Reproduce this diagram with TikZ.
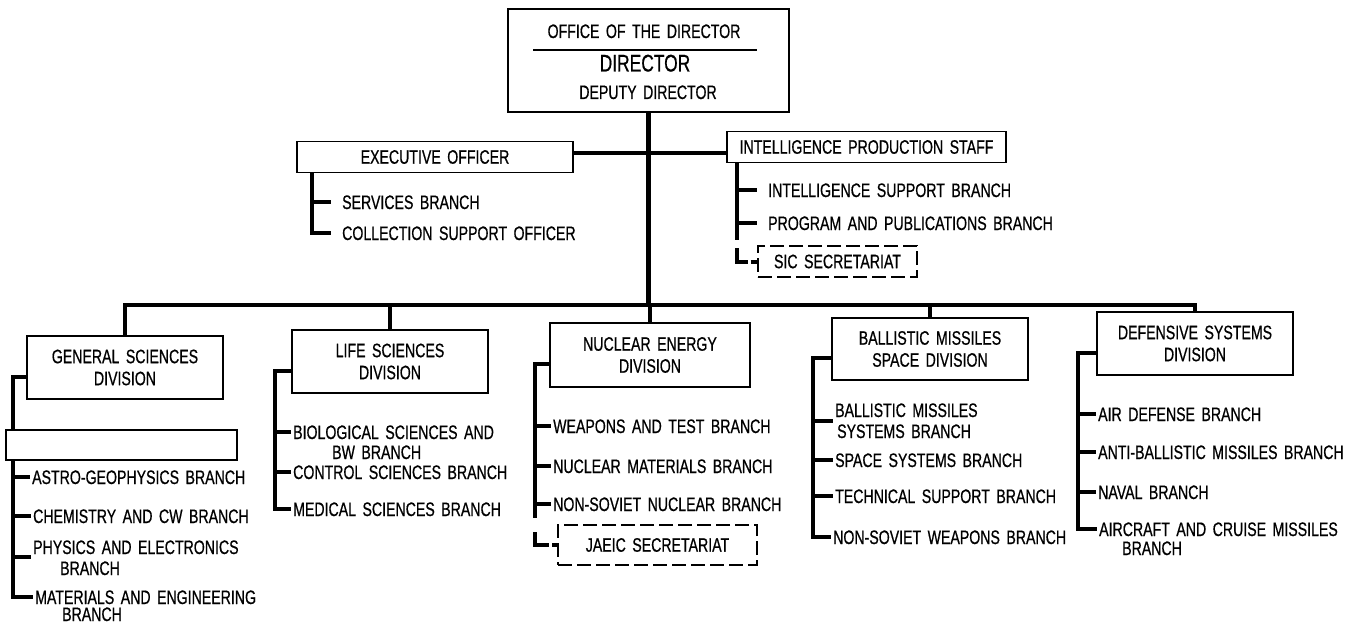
\documentclass[tikz,border=0pt]{standalone}
\usepackage{fontspec}
\setmainfont{Liberation Sans}[FakeStretch=0.725,WordSpace=1.65,FakeBold=0.6]
\begin{document}
\begin{tikzpicture}[x=1pt,y=-1pt,
  txt/.style={font=\fontsize{19.5}{22}\selectfont},
  lbl/.style={txt, anchor=west, inner sep=0pt, text height=14pt, text depth=0pt},
  divbox/.style={txt, draw, line width=1.5pt, minimum width=196pt, minimum height=63pt, align=center, inner sep=2pt},
  staffbox/.style={txt, draw, line width=1.5pt, minimum height=31pt, inner sep=0pt},
  dashbox/.style={txt, draw, line width=1.3pt, dash pattern=on 14pt off 5pt, inner sep=0pt},
  blankbox/.style={draw, line width=2.5pt, fill=white, inner sep=0pt},
  spine/.style={line width=4pt},
  tick/.style={line width=3.5pt},
  bus/.style={line width=4.5pt},
  trunk/.style={line width=5pt}]

\fill[white] (0,0) rectangle (1366,623);
\useasboundingbox (0,0) rectangle (1366,623);

% ---------- Office of the Director ----------
\node[draw, line width=1.8pt, minimum width=281pt, minimum height=103pt, inner sep=0pt] (dirbox) at (648.5,60.5) {};
\node[lbl, anchor=center] (office) at (644,31) {OFFICE OF THE DIRECTOR};
\draw[line width=1.2pt] (533,50) -- (757,50);
\node[lbl, anchor=center, font=\fontsize{24}{26}\selectfont, text height=17pt] (director) at (645,63) {DIRECTOR};
\node[lbl, anchor=center] (deputy) at (648,92) {DEPUTY DIRECTOR};

\coordinate (hub) at (649,153);
\coordinate (busc) at (649,305);
\draw[trunk] (dirbox.south) -- (dirbox.south |- busc);

% ---------- Staff offices ----------
\node[staffbox, minimum width=276pt] (exec) at (435,157) {EXECUTIVE OFFICER};
\node[staffbox, minimum width=279pt] (ips) at (866.5,147) {INTELLIGENCE PRODUCTION STAFF};
\draw[line width=3.5pt] (exec.east |- hub) -- (ips.west |- hub);

% Executive officer branches
\node[lbl] (serv) at (342,202) {SERVICES BRANCH};
\node[lbl] (coll) at (342,233) {COLLECTION SUPPORT OFFICER};
\coordinate (xsp) at (312,0);
\draw[spine] (exec.south -| xsp) -- (xsp |- coll.west) -- ([xshift=-11pt]coll.west);
\draw[tick] (xsp |- serv.west) -- ([xshift=-11pt]serv.west);

% Intelligence production staff branches
\node[lbl] (isb) at (768,190) {INTELLIGENCE SUPPORT BRANCH};
\node[lbl] (ppb) at (768,223) {PROGRAM AND PUBLICATIONS BRANCH};
\node[dashbox, minimum width=159pt, minimum height=31pt] (sic) at (837.5,261.5) {SIC SECRETARIAT};
\coordinate (iend) at (737,240);
\coordinate (itop) at (737,248);
\draw[spine] (ips.south -| iend) -- (iend);
\draw[tick] (iend |- isb.west) -- ([xshift=-11pt]isb.west);
\draw[tick] (iend |- ppb.west) -- ([xshift=-11pt]ppb.west);
\draw[spine, dash pattern=on 24pt off 3pt] (itop) |- (sic.west);

% ---------- Divisions ----------
\node[divbox] (gsd) at (125,367.5) {GENERAL SCIENCES\\DIVISION};
\node[divbox] (lsd) at (390,361.5) {LIFE SCIENCES\\DIVISION};
\node[divbox, minimum width=200pt, minimum height=64pt] (ned) at (650,355) {NUCLEAR ENERGY\\DIVISION};
\node[divbox, minimum height=62pt] (bsd) at (930,349) {BALLISTIC MISSILES\\SPACE DIVISION};
\node[divbox] (dsd) at (1195,343.5) {DEFENSIVE SYSTEMS\\DIVISION};

\draw[bus] (gsd.north) |- (dsd.north |- busc) -- (dsd.north);
\draw[spine] (lsd.north |- busc) -- (lsd.north);
\draw[spine] (ned.north |- busc) -- (ned.north);
\draw[spine] (bsd.north |- busc) -- (bsd.north);

% General Sciences Division
\node[lbl] (astro) at (32,477) {ASTRO-GEOPHYSICS BRANCH};
\node[lbl] (chem) at (33,516) {CHEMISTRY AND CW BRANCH};
\node[lbl] (phys) at (33,547) {PHYSICS AND ELECTRONICS};
\node[lbl] (phys2) at (60,568) {BRANCH};
\node[lbl] (mat) at (35,597) {MATERIALS AND ENGINEERING};
\node[lbl] (mat2) at (62,614) {BRANCH};
\coordinate (gsx) at (13,0);
\draw[spine] ([yshift=-9pt]gsd.west) -| (gsx |- mat.west) -- ([xshift=-2pt]mat.west);
\node[blankbox, minimum width=231pt, minimum height=30pt] (gsblank) at (121.5,445) {};
\draw[tick] (gsx |- astro.west) -- ([xshift=-2pt]astro.west);
\draw[tick] (gsx |- chem.west) -- ([xshift=-2pt]chem.west);
\draw[tick] ([yshift=-10pt]gsx |- phys.west) -- ([xshift=-2pt,yshift=-10pt]phys.west);

% Life Sciences Division
\node[lbl] (bio) at (293,432) {BIOLOGICAL SCIENCES AND};
\node[lbl] (bio2) at (332,452) {BW BRANCH};
\node[lbl] (ctrl) at (293,472) {CONTROL SCIENCES BRANCH};
\node[lbl] (med) at (293,509) {MEDICAL SCIENCES BRANCH};
\coordinate (lsx) at (275,0);
\draw[spine] ([yshift=-9pt]lsd.west) -| (lsx |- med.west) -- ([xshift=-2pt]med.west);
\draw[tick] (lsx |- bio.west) -- ([xshift=-2pt]bio.west);
\draw[tick] (lsx |- ctrl.west) -- ([xshift=-2pt]ctrl.west);

% Nuclear Energy Division
\node[lbl] (weap) at (553,426) {WEAPONS AND TEST BRANCH};
\node[lbl] (nmat) at (553,466) {NUCLEAR MATERIALS BRANCH};
\node[lbl] (nsov) at (553,504) {NON-SOVIET NUCLEAR BRANCH};
\node[dashbox, minimum width=199pt, minimum height=40pt] (jaeic) at (657.5,545) {JAEIC SECRETARIAT};
\coordinate (nend) at (535,518);
\coordinate (ntop) at (535,532);
\draw[spine] ([yshift=-9pt]ned.west) -| (nend);
\draw[tick] (nend |- weap.west) -- ([xshift=-2pt]weap.west);
\draw[tick] (nend |- nmat.west) -- ([xshift=-2pt]nmat.west);
\draw[tick] (nend |- nsov.west) -- ([xshift=-2pt]nsov.west);
\draw[spine, dash pattern=on 27pt off 3pt] (ntop) |- (jaeic.west);

% Ballistic Missiles and Space Division
\node[lbl] (bm) at (835,410) {BALLISTIC MISSILES};
\node[lbl] (bm2) at (837,431) {SYSTEMS BRANCH};
\node[lbl] (space) at (835,460) {SPACE SYSTEMS BRANCH};
\node[lbl] (tech) at (835,496) {TECHNICAL SUPPORT BRANCH};
\node[lbl] (nsw) at (833,537) {NON-SOVIET WEAPONS BRANCH};
\coordinate (bsx) at (813,0);
\draw[spine] ([yshift=-9pt]bsd.west) -| (bsx |- nsw.west) -- ([xshift=-2pt]nsw.west);
\draw[tick] ([yshift=-11pt]bsx |- bm.west) -- ([xshift=-2pt,yshift=-11pt]bm.west);
\draw[tick] (bsx |- space.west) -- ([xshift=-2pt]space.west);
\draw[tick] (bsx |- tech.west) -- ([xshift=-2pt]tech.west);

% Defensive Systems Division
\node[lbl] (air) at (1098,414) {AIR DEFENSE BRANCH};
\node[lbl] (abm) at (1098,452) {ANTI-BALLISTIC MISSILES BRANCH};
\node[lbl] (nav) at (1098,492) {NAVAL BRANCH};
\node[lbl] (acm) at (1099,529) {AIRCRAFT AND CRUISE MISSILES};
\node[lbl] (acm2) at (1122,548) {BRANCH};
\coordinate (dsx) at (1078,0);
\draw[spine] ([yshift=-9pt]dsd.west) -| (dsx |- acm.west) -- ([xshift=-2pt]acm.west);
\draw[tick] (dsx |- air.west) -- ([xshift=-2pt]air.west);
\draw[tick] (dsx |- abm.west) -- ([xshift=-2pt]abm.west);
\draw[tick] (dsx |- nav.west) -- ([xshift=-2pt]nav.west);
\end{tikzpicture}
\end{document}
